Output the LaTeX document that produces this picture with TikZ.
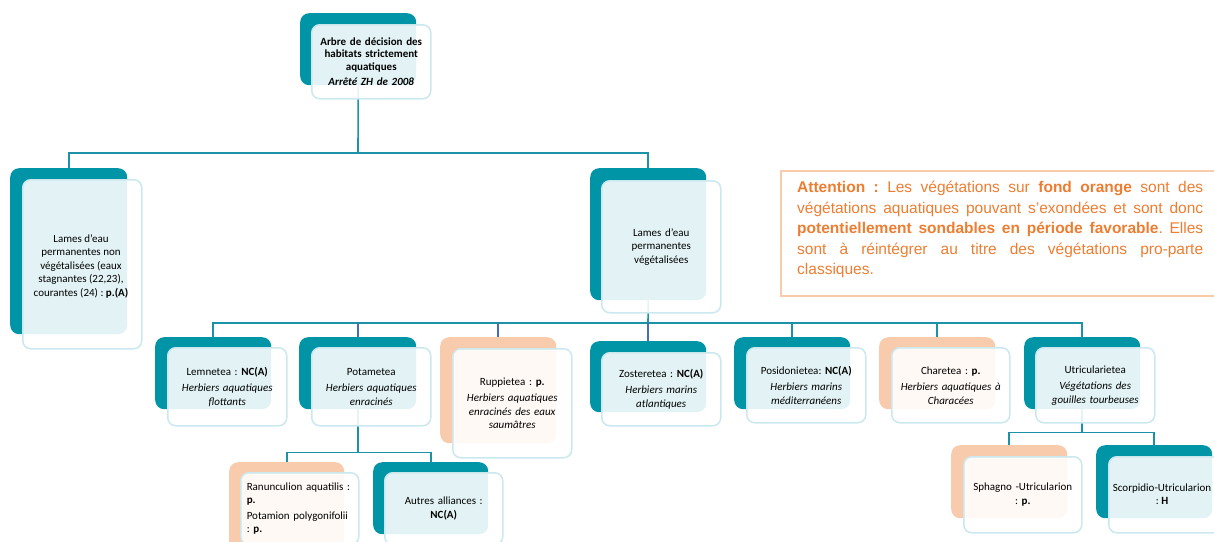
\documentclass[tikz,border=0pt]{standalone}
\usepackage{fontspec}
\setmainfont{Carlito}
\newfontfamily\arialf{Liberation Sans}
\usetikzlibrary{backgrounds}
\definecolor{tealbk}{RGB}{0,148,167}
\definecolor{peachbk}{RGB}{247,203,172}
\definecolor{frontln}{RGB}{203,232,239}
\definecolor{linkc}{RGB}{28,146,168}
\definecolor{linkb}{RGB}{70,110,180}
\definecolor{attn}{RGB}{237,125,49}
\definecolor{attnbd}{RGB}{248,203,173}
\tikzset{
 backbox/.style={rounded corners=9pt, inner sep=0pt, anchor=north west, minimum width=116pt, minimum height=72pt},
 tealbox/.style={backbox, fill=tealbk},
 peachbox/.style={backbox, fill=peachbk},
 frontbox/.style={draw=frontln, line width=1.5pt, fill=white, fill opacity=0.89, text opacity=1, rounded corners=8pt, anchor=north west, minimum width=119pt, minimum height=75pt, inner sep=0pt, align=center, text width=112pt, font=\frenchspacing\fontsize{11}{13.5}\selectfont},
 boxtext/.style={inner sep=0pt, align=center, font=\frenchspacing\fontsize{11}{13.5}\selectfont},
 link/.style={draw=linkc, line width=1.6pt},
 linkblue/.style={draw=linkb, line width=1.6pt},
 attbox/.style={draw=attnbd, line width=1.8pt, anchor=north west, inner sep=0pt},
 atttext/.style={anchor=north west, text width=406pt, inner sep=0pt, font=\frenchspacing\arialf\fontsize{15.5}{20.5}\selectfont, text=attn, align=justify},
}
\begin{document}
\begin{tikzpicture}[x=1pt,y=-1pt]
\useasboundingbox (0,0) rectangle (1214,541);
\clip (0,0) rectangle (1214,541);
% top
\node[tealbox] (topB) at (300,13) {};
\node[frontbox, minimum height=74pt, font=\frenchspacing\fontsize{11}{12.5}\selectfont] (topF) at (311,24) {\textbf{Arbre de décision des}\\ \textbf{habitats strictement}\\ \textbf{aquatiques}\\[3pt] \textbf{\textit{Arrêté ZH de 2008}}};
% left
\node[tealbox, minimum width=117pt, minimum height=166pt] (leftB) at (10,168) {};
\node[frontbox, minimum height=169pt, text width=100pt] (leftF) at (22,179) {};
\node[boxtext] (leftT) at (81,266) {Lames d'eau\\ permanentes non\\ végétalisées (eaux\\ stagnantes (22,23),\\ courantes (24) : \textbf{p.(A)}};
% right
\node[tealbox, minimum height=132pt] (rightB) at (590,168) {};
\node[frontbox, minimum height=132pt] (rightF) at (601,180) {Lames d'eau\\ permanentes\\ végétalisées};
% row
\node[tealbox] (lemB) at (155,337) {};
\node[frontbox, minimum height=78pt] (lemF) at (167,347) {Lemnetea : \textbf{NC(A)}\\[3pt] \textit{Herbiers aquatiques}\\ \textit{flottants}};
\node[tealbox, minimum width=117pt] (potB) at (299,337) {};
\node[frontbox, minimum height=78pt] (potF) at (311,347) {Potametea\\[3pt] \textit{Herbiers aquatiques}\\ \textit{enracinés}};
\node[peachbox, minimum height=106pt] (rupB) at (440,337) {};
\node[frontbox, minimum height=109pt] (rupF) at (452,348) {Ruppietea : \textbf{p.}\\[3pt] \textit{Herbiers aquatiques}\\ \textit{enracinés des eaux}\\ \textit{saumâtres}};
\node[tealbox, minimum height=71pt] (zosB) at (590,341) {};
\node[frontbox, minimum height=73pt] (zosF) at (601,352) {Zosteretea : \textbf{NC(A)}\\[3pt] \textit{Herbiers marins}\\ \textit{atlantiques}};
\node[tealbox] (posB) at (734,337) {};
\node[frontbox] (posF) at (746,347) {Posidonietea: \textbf{NC(A)}\\[3pt] \textit{Herbiers marins}\\ \textit{méditerranéens}};
\node[peachbox] (chaB) at (879,337) {};
\node[frontbox, minimum width=118pt] (chaF) at (891,347) {Charetea : \textbf{p.}\\[3pt] \textit{Herbiers aquatiques à}\\ \textit{Characées}};
\node[tealbox] (utrB) at (1024,337) {};
\node[frontbox] (utrF) at (1035,347) {Utricularietea\\[3pt] \textit{Végétations des}\\ \textit{gouilles tourbeuses}};
% bottom
\node[peachbox, minimum width=115pt, minimum height=100pt] (ranB) at (229,462) {};
\node[frontbox, minimum width=118pt, minimum height=72pt, align=left, text width=106pt] (ranF) at (240,472) {Ranunculion aquatilis :\\ \textbf{p.}\\[2pt] Potamion polygonifolii\\ : \textbf{p.}};
\node[tealbox, minimum width=115pt, minimum height=72pt] (autB) at (373,462) {};
\node[frontbox, minimum width=118pt, minimum height=72pt] (autF) at (384,472) {Autres alliances :\\ \textbf{NC(A)}};
\node[peachbox, minimum height=73pt] (sphB) at (951,445) {};
\node[frontbox, minimum width=118pt, minimum height=76pt] (sphF) at (963,456) {Sphagno -Utricularion\\ : \textbf{p.}};
\node[tealbox, minimum height=73pt] (scoB) at (1096,445) {};
\node[frontbox, minimum height=76pt] (scoF) at (1108,456) {};
\node[boxtext] (scoT) at (1162,494) {Scorpidio-Utricularion\\ : \textbf{H}};
% attention
\node[attbox, minimum width=440pt, minimum height=125pt] (attB) at (780,170) {};
\node[atttext] (attT) at (797,181) {%
\makebox[\linewidth][s]{\textbf{Attention :} Les végétations sur \textbf{fond orange} sont des}\\
\makebox[\linewidth][s]{végétations aquatiques pouvant s’exondées et sont donc}\\
\makebox[\linewidth][s]{\textbf{potentiellement sondables en période favorable}. Elles}\\
\makebox[\linewidth][s]{sont à réintégrer au titre des végétations pro-parte}\\
classiques.};
% connectors
\begin{scope}[on background layer]
\coordinate (bus1) at (358,153);
\draw[link] (topB.south) -- (bus1);
\draw[link] (leftB.north) |- (bus1) -| (rightB.north);
\coordinate (bus2) at (648,323);
\draw[link] (rightB.south) -- (bus2);
\draw[link] (lemB.north) |- (bus2) -| (utrB.north);
\draw[link] (posB.north) -- (posB.north |- bus2);
\draw[link] (chaB.north) -- (chaB.north |- bus2);
\draw[linkblue] (potB.north) -- (potB.north |- bus2);
\draw[linkblue] (rupB.north) -- (rupB.north |- bus2);
\draw[linkblue] (zosB.north) -- (zosB.north |- bus2);
\path (potB.south) ++(0,43) coordinate (bus3);
\draw[link] (potB.south) -- (bus3);
\draw[link] (ranB.north) |- (bus3) -| (autB.north);
\path (utrB.south) ++(0,23) coordinate (bus4);
\draw[link] (utrB.south) -- (bus4);
\draw[link] (sphB.north) |- (bus4) -| (scoB.north);
\end{scope}
\end{tikzpicture}
\end{document}
